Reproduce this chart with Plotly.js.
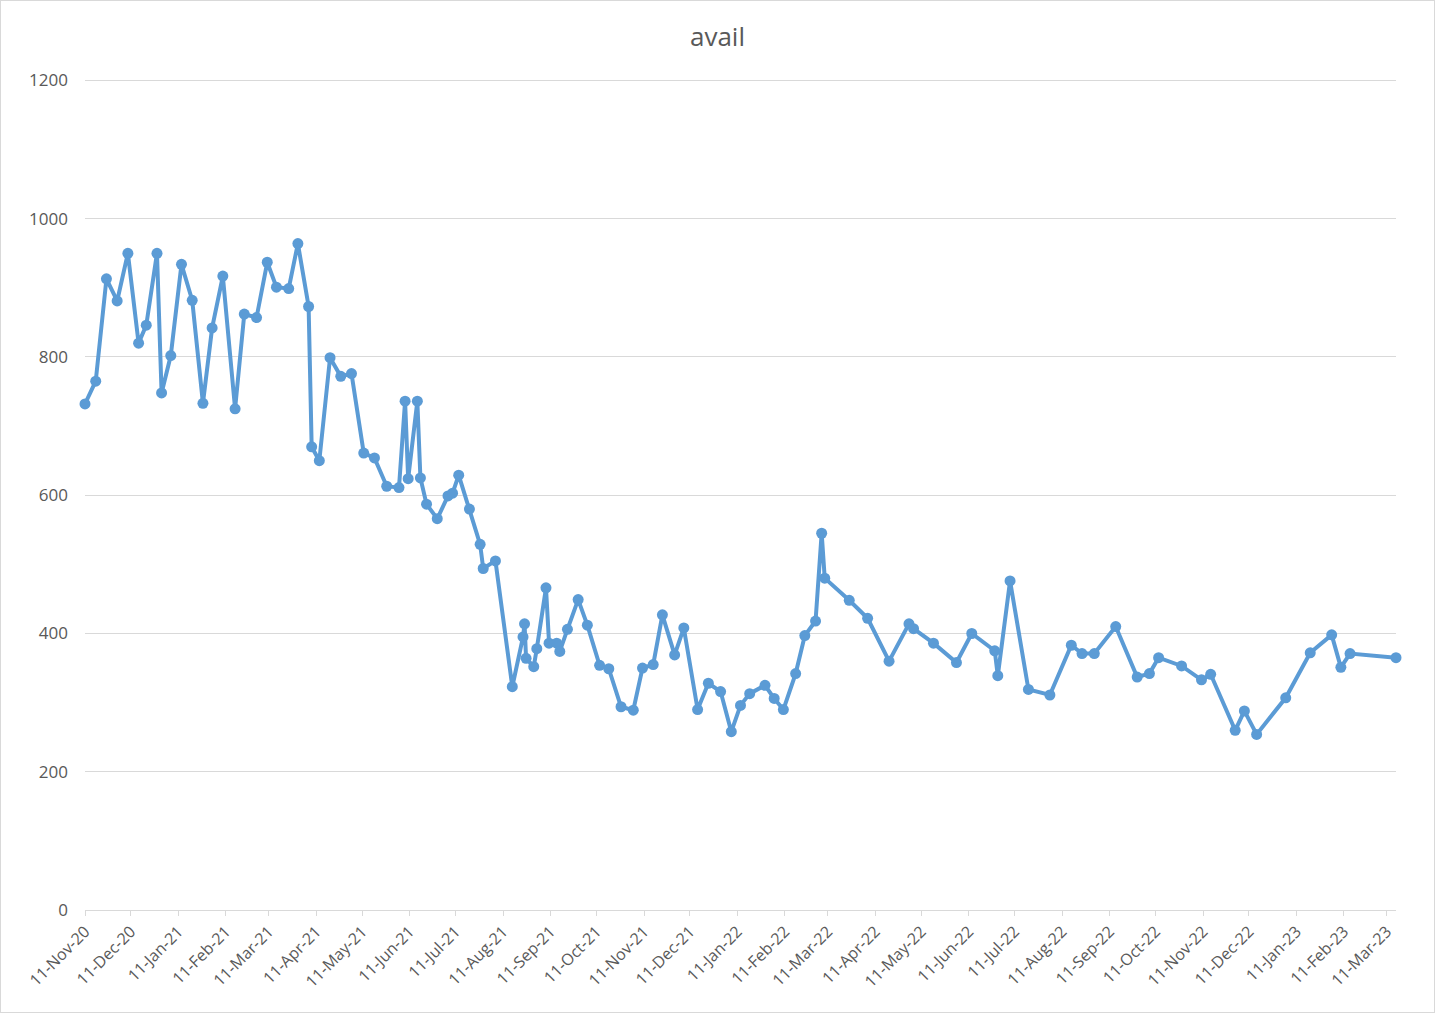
<!DOCTYPE html>
<html>
<head>
<meta charset="utf-8">
<script src="https://cdn.plot.ly/plotly-3.0.1.min.js"></script>
<style>
  html, body { margin: 0; padding: 0; background: #fff; }
  #chart { width: 1433px; height: 1011px; border: 1px solid #d9d9d9; }
</style>
</head>
<body>
<div id="chart"></div>
<script>
const TITLE = "avail";

const dates = [
  "2020-11-11","2020-11-18","2020-11-25","2020-12-02","2020-12-09","2020-12-16","2020-12-21","2020-12-28","2020-12-31",
  "2021-01-06","2021-01-13","2021-01-20","2021-01-27","2021-02-02","2021-02-09","2021-02-17","2021-02-23",
  "2021-03-03","2021-03-10","2021-03-16","2021-03-24","2021-03-30","2021-04-06","2021-04-08","2021-04-13",
  "2021-04-20","2021-04-27","2021-05-04","2021-05-12","2021-05-19","2021-05-27","2021-06-04","2021-06-08",
  "2021-06-10","2021-06-16","2021-06-18","2021-06-22","2021-06-29","2021-07-06","2021-07-09","2021-07-13",
  "2021-07-20","2021-07-27","2021-07-29","2021-08-06","2021-08-17","2021-08-24","2021-08-25","2021-08-26",
  "2021-08-31","2021-09-02","2021-09-08","2021-09-10","2021-09-15","2021-09-17","2021-09-22","2021-09-29",
  "2021-10-05","2021-10-13","2021-10-19","2021-10-27","2021-11-04","2021-11-10","2021-11-17","2021-11-23",
  "2021-12-01","2021-12-07","2021-12-16","2021-12-23","2021-12-31","2022-01-07","2022-01-13","2022-01-19",
  "2022-01-29","2022-02-04","2022-02-10","2022-02-18","2022-02-24","2022-03-03","2022-03-07","2022-03-09",
  "2022-03-25","2022-04-06","2022-04-20","2022-05-03","2022-05-06","2022-05-19","2022-06-03","2022-06-13",
  "2022-06-28","2022-06-30","2022-07-08","2022-07-20","2022-08-03","2022-08-17","2022-08-24","2022-09-01",
  "2022-09-15","2022-09-29","2022-10-07","2022-10-13","2022-10-28","2022-11-10","2022-11-16","2022-12-02",
  "2022-12-08","2022-12-16","2023-01-04","2023-01-20","2023-02-03","2023-02-09","2023-02-15","2023-03-17"
];

const avail = [
  732,765,913,881,950,820,846,950,748,
  802,934,882,733,842,917,725,862,
  857,937,901,899,964,873,670,650,
  799,772,776,661,654,613,611,736,
  624,736,625,587,566,599,603,629,
  580,529,494,505,323,395,414,364,
  352,378,466,386,386,374,406,449,
  412,354,349,294,289,350,355,427,
  369,408,290,328,316,258,296,313,
  325,306,290,342,397,418,545,480,
  448,422,360,414,407,386,358,400,
  375,339,476,319,311,383,371,371,
  410,337,342,365,353,333,341,260,
  288,254,307,372,398,351,371,365
];

const yTicks = [0, 200, 400, 600, 800, 1000, 1200];
const xRange = ["2020-11-11", "2023-03-17"];

const textColor = "#595959";
const gridColor = "#d9d9d9";
const fontFamily = "'Open Sans', 'Noto Sans', sans-serif";

const trace = {
  x: dates,
  y: avail,
  type: "scatter",
  mode: "lines+markers",
  name: TITLE,
  cliponaxis: false,
  line: { color: "#5b9bd5", width: 4 },
  marker: { color: "#5b9bd5", size: 11 },
  hoverinfo: "x+y"
};

const layout = {
  width: 1433,
  height: 1011,
  paper_bgcolor: "#ffffff",
  plot_bgcolor: "#ffffff",
  margin: { l: 84, r: 38, t: 76, b: 102 },
  showlegend: false,
  title: {
    text: TITLE,
    x: 0.5,
    xanchor: "center",
    y: 0.964,
    yanchor: "middle",
    font: { family: fontFamily, size: 26, color: textColor }
  },
  xaxis: {
    type: "date",
    range: xRange,
    tick0: "2020-11-11",
    dtick: "M1",
    tickformat: "%d-%b-%y",
    tickangle: -45,
    ticks: "outside",
    ticklen: 5,
    tickcolor: gridColor,
    showgrid: false,
    showline: true,
    linecolor: gridColor,
    linewidth: 1,
    zeroline: false,
    tickfont: { family: fontFamily, size: 16, color: textColor },
    fixedrange: true
  },
  yaxis: {
    range: [0, 1205],
    tickvals: yTicks,
    showgrid: true,
    gridcolor: gridColor,
    gridwidth: 1,
    zeroline: false,
    showline: false,
    ticks: "",
    ticklabelstandoff: 16,
    tickfont: { family: fontFamily, size: 17, color: textColor },
    fixedrange: true
  }
};

Plotly.newPlot("chart", [trace], layout, { displayModeBar: false, staticPlot: true });
</script>
</body>
</html>
